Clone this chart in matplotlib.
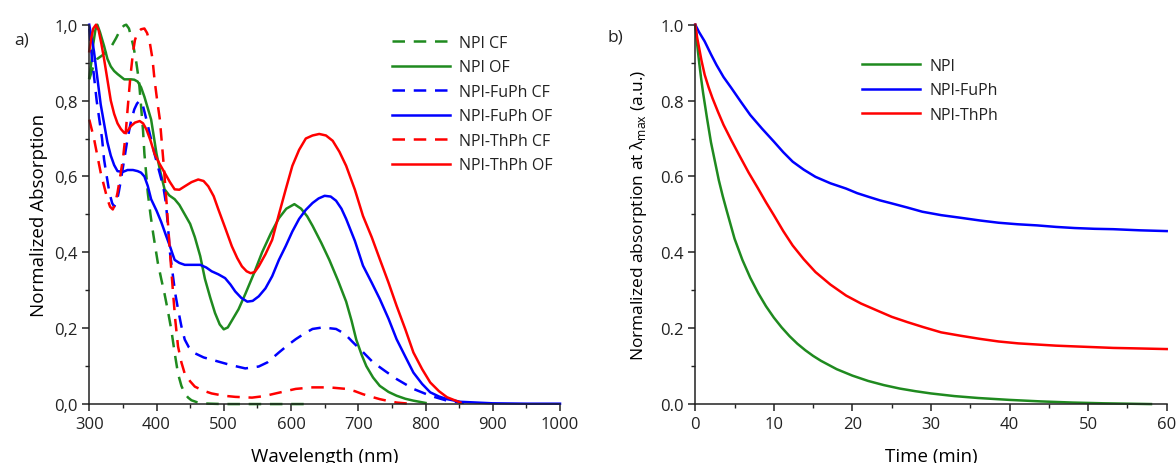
import matplotlib
matplotlib.use('Agg')
import matplotlib.pyplot as plt
from matplotlib.ticker import MultipleLocator, FuncFormatter

plt.rcParams['font.family'] = ['Open Sans', 'DejaVu Sans']
plt.rcParams['mathtext.fontset'] = 'custom'
plt.rcParams['mathtext.rm'] = 'Open Sans'
plt.rcParams['text.color'] = '#222222'

# ---- panel a) absorption spectra (wavelength nm, normalized absorption) ----
npi_cf_wl = [300, 306, 312, 320, 326, 332, 340, 347, 352, 355, 359, 362, 366, 370, 374, 377, 380, 382, 385, 387, 391, 395,
             399, 402, 407, 412, 417, 422, 427, 432, 437, 442, 447, 452, 460, 467, 480, 500, 560, 620]
npi_cf_abs = [0.856, 0.89, 0.91, 0.92, 0.93, 0.94, 0.965, 0.99, 0.998, 1.0, 0.99, 0.97, 0.94, 0.90, 0.85, 0.786, 0.72,
              0.66, 0.60, 0.557, 0.50, 0.45, 0.405, 0.372, 0.33, 0.29, 0.245, 0.196, 0.135, 0.08, 0.048, 0.028, 0.017,
              0.01, 0.005, 0.002, 0.001, 0.0, 0.0, 0.0]

npi_of_wl = [300, 303, 306, 309, 312, 316, 322, 327, 332, 337, 342, 352, 362, 367, 372, 377, 382, 387, 392, 396, 400, 406,
             412, 419, 427, 434, 442, 450, 457, 465, 472, 480, 487, 494, 500, 506, 512, 522, 532, 545, 557, 570, 582,
             593, 605, 615, 624, 632, 645, 657, 670, 682, 690, 697, 705, 712, 722, 732, 745, 757, 770, 782, 800]
npi_of_abs = [0.86, 0.90, 0.95, 0.985, 1.0, 0.98, 0.944, 0.91, 0.89, 0.878, 0.87, 0.856, 0.856, 0.855, 0.85, 0.835, 0.81,
              0.78, 0.75, 0.705, 0.66, 0.61, 0.566, 0.55, 0.54, 0.525, 0.50, 0.475, 0.44, 0.39, 0.33, 0.28, 0.24, 0.21,
              0.197, 0.202, 0.22, 0.25, 0.29, 0.345, 0.40, 0.45, 0.49, 0.515, 0.527, 0.515, 0.495, 0.47, 0.425, 0.38,
              0.325, 0.27, 0.22, 0.17, 0.13, 0.10, 0.07, 0.048, 0.032, 0.022, 0.014, 0.009, 0.003]

fuph_cf_wl = [300, 303, 307, 311, 315, 319, 322, 326, 330, 334, 337, 341, 344, 347, 352, 357, 362, 367, 371, 375, 380, 385,
              391, 397, 403, 410, 414, 417, 420, 425, 428, 432, 437, 442, 448, 457, 470, 492, 510, 532, 552, 565, 582,
              595, 607, 620, 632, 647, 667, 680, 692, 707, 722, 740, 757, 782, 807, 832, 857]
fuph_cf_abs = [0.99, 0.93, 0.865, 0.80, 0.75, 0.70, 0.645, 0.60, 0.557, 0.53, 0.52, 0.535, 0.56, 0.59, 0.645, 0.70, 0.745,
               0.777, 0.792, 0.80, 0.785, 0.75, 0.705, 0.66, 0.62, 0.574, 0.53, 0.469, 0.40, 0.33, 0.29, 0.25, 0.205,
               0.17, 0.15, 0.134, 0.123, 0.112, 0.103, 0.094, 0.099, 0.11, 0.136, 0.155, 0.171, 0.186, 0.198, 0.202,
               0.198, 0.185, 0.163, 0.137, 0.11, 0.087, 0.066, 0.04, 0.022, 0.009, 0.003]

fuph_of_wl = [300, 303, 307, 312, 317, 322, 327, 332, 337, 342, 350, 357, 365, 372, 377, 382, 387, 392, 400, 407, 414, 420,
              424, 427, 434, 442, 455, 465, 474, 482, 492, 502, 510, 517, 526, 535, 543, 552, 562, 572, 582, 592, 602,
              612, 622, 632, 641, 650, 659, 667, 675, 682, 695, 707, 720, 732, 745, 757, 770, 782, 795, 807, 820, 832,
              852, 900, 950, 1000]
fuph_of_abs = [1.0, 0.97, 0.93, 0.86, 0.79, 0.74, 0.69, 0.655, 0.63, 0.614, 0.612, 0.617, 0.617, 0.614, 0.61, 0.60, 0.575,
               0.54, 0.51, 0.48, 0.445, 0.416, 0.395, 0.38, 0.372, 0.367, 0.367, 0.367, 0.36, 0.35, 0.342, 0.332, 0.315,
               0.297, 0.28, 0.27, 0.272, 0.284, 0.305, 0.337, 0.38, 0.416, 0.455, 0.488, 0.512, 0.53, 0.542, 0.549,
               0.547, 0.536, 0.515, 0.488, 0.43, 0.365, 0.32, 0.277, 0.225, 0.171, 0.125, 0.083, 0.053, 0.031, 0.02,
               0.013, 0.006, 0.002, 0.001, 0.001]

thph_cf_wl = [300, 307, 312, 317, 322, 327, 331, 335, 338, 342, 346, 350, 354, 357, 361, 365, 368, 372, 377, 382, 386, 390,
              394, 397, 401, 405, 410, 415, 420, 425, 428, 432, 437, 442, 450, 457, 470, 482, 500, 517, 542, 560, 577,
              592, 607, 632, 657, 682, 695, 707, 720, 732, 745, 757, 782]
thph_cf_abs = [0.75, 0.70, 0.655, 0.61, 0.575, 0.54, 0.52, 0.513, 0.525, 0.557, 0.60, 0.645, 0.71, 0.777, 0.86, 0.927,
               0.96, 0.98, 0.988, 0.99, 0.978, 0.953, 0.91, 0.856, 0.80, 0.75, 0.645, 0.53, 0.40, 0.284, 0.22, 0.152,
               0.11, 0.08, 0.06, 0.046, 0.035, 0.028, 0.022, 0.019, 0.017, 0.021, 0.028, 0.034, 0.04, 0.044, 0.044, 0.04,
               0.034, 0.026, 0.019, 0.013, 0.008, 0.004, 0.0]

thph_of_wl = [300, 303, 306, 310, 314, 318, 322, 327, 332, 337, 342, 347, 352, 357, 362, 368, 375, 380, 385, 391, 397, 404,
              412, 420, 427, 434, 442, 452, 462, 470, 477, 485, 492, 502, 512, 520, 527, 534, 540, 546, 552, 562, 572,
              582, 592, 602, 612, 622, 632, 642, 652, 662, 672, 682, 695, 707, 720, 732, 745, 757, 770, 782, 795, 807,
              820, 832, 852]
thph_of_abs = [0.93, 0.965, 0.99, 1.0, 0.985, 0.95, 0.91, 0.855, 0.80, 0.765, 0.74, 0.725, 0.715, 0.72, 0.733, 0.742,
               0.746, 0.74, 0.724, 0.695, 0.66, 0.635, 0.61, 0.585, 0.566, 0.565, 0.574, 0.585, 0.592, 0.588, 0.574,
               0.548, 0.513, 0.465, 0.416, 0.385, 0.363, 0.35, 0.345, 0.348, 0.363, 0.395, 0.433, 0.50, 0.565, 0.628,
               0.67, 0.70, 0.708, 0.712, 0.708, 0.694, 0.665, 0.628, 0.565, 0.496, 0.44, 0.382, 0.32, 0.259, 0.197,
               0.136, 0.092, 0.057, 0.034, 0.018, 0.004]

# ---- panel b) decay at lambda max (time min) ----
npi_t = [0, 0.25, 0.5, 0.75, 1, 1.5, 2, 2.5, 3, 3.5, 4, 5, 6, 7, 8, 9, 10, 11, 12, 13, 14, 15, 16, 18, 20, 22, 24, 26,
         28, 30, 33, 36, 40, 44, 48, 52, 55, 58]
npi_a = [1.0, 0.947, 0.90, 0.858, 0.82, 0.753, 0.69, 0.64, 0.59, 0.548, 0.51, 0.436, 0.38, 0.333, 0.293, 0.258, 0.228,
         0.202, 0.179, 0.159, 0.142, 0.127, 0.114, 0.092, 0.075, 0.061, 0.050, 0.041, 0.034, 0.028, 0.021, 0.016,
         0.011, 0.007, 0.004, 0.002, 0.001, 0.0]

fuph_t = [0, 0.5, 1.2, 2.0, 2.7, 3.6, 4.6, 5.8, 7.0, 8.5, 10, 11.2, 12.4, 13.8, 15.3, 17.2, 19.2, 20.6, 22.1, 23.5, 25,
          27, 28.9, 31.3, 33.8, 36.2, 38.6, 41, 43.5, 45.9, 48.3, 50.8, 53.2, 56.6, 60]
fuph_a = [1.0, 0.98, 0.956, 0.922, 0.894, 0.862, 0.833, 0.797, 0.762, 0.726, 0.692, 0.664, 0.639, 0.618, 0.599, 0.582,
          0.568, 0.556, 0.546, 0.537, 0.529, 0.518, 0.507, 0.498, 0.491, 0.484, 0.478, 0.474, 0.471, 0.467, 0.464,
          0.462, 0.461, 0.458, 0.456]

thph_t = [0, 0.25, 0.5, 0.8, 1.2, 1.7, 2.2, 2.9, 3.6, 4.6, 5.6, 6.8, 8, 9, 10, 11.2, 12.4, 13.8, 15.3, 17.2, 19.2, 21.1,
          23.1, 25, 27, 29, 31.3, 33.8, 36.2, 38.6, 41.1, 43.5, 45.9, 48.3, 50.8, 53.2, 55.6, 60]
thph_a = [1.0, 0.965, 0.938, 0.905, 0.868, 0.835, 0.806, 0.77, 0.736, 0.695, 0.656, 0.61, 0.568, 0.532, 0.498, 0.456,
          0.418, 0.382, 0.348, 0.315, 0.286, 0.265, 0.247, 0.23, 0.216, 0.203, 0.189, 0.18, 0.172, 0.165, 0.160,
          0.157, 0.154, 0.152, 0.150, 0.148, 0.147, 0.145]

green = '#1f8a1f'
blue = '#0000ff'
red = '#ff0000'
lw = 1.8
dash = (5, 3.5)

fig = plt.figure(figsize=(11.76, 4.64), dpi=100)
ax1 = fig.add_axes([0.0759, 0.127, 0.4003, 0.8176])
ax2 = fig.add_axes([0.5912, 0.127, 0.4009, 0.8176])

ax1.plot(npi_cf_wl, npi_cf_abs, color=green, lw=lw, dashes=dash, label='NPI CF')
ax1.plot(npi_of_wl, npi_of_abs, color=green, lw=lw, label='NPI OF')
ax1.plot(fuph_cf_wl, fuph_cf_abs, color=blue, lw=lw, dashes=dash, label='NPI-FuPh CF')
ax1.plot(fuph_of_wl, fuph_of_abs, color=blue, lw=lw, label='NPI-FuPh OF')
ax1.plot(thph_cf_wl, thph_cf_abs, color=red, lw=lw, dashes=dash, label='NPI-ThPh CF')
ax1.plot(thph_of_wl, thph_of_abs, color=red, lw=lw, label='NPI-ThPh OF')

ax2.plot(npi_t, npi_a, color=green, lw=lw, label='NPI')
ax2.plot(fuph_t, fuph_a, color=blue, lw=lw, label='NPI-FuPh')
ax2.plot(thph_t, thph_a, color=red, lw=lw, label='NPI-ThPh')

ax1.set_xlim(300, 1000)
ax1.set_ylim(0, 1.0)
ax1.xaxis.set_major_locator(MultipleLocator(100))
ax1.xaxis.set_minor_locator(MultipleLocator(50))
ax1.yaxis.set_major_locator(MultipleLocator(0.2))
ax1.yaxis.set_minor_locator(MultipleLocator(0.1))
ax1.yaxis.set_major_formatter(FuncFormatter(lambda v, p: f'{v:.1f}'.replace('.', ',')))
ax1.set_xlabel('Wavelength (nm)', fontsize=13.5, labelpad=11)
ax1.set_ylabel('Normalized Absorption', fontsize=13.5)

ax2.set_xlim(0, 60)
ax2.set_ylim(0, 1.0)
ax2.xaxis.set_major_locator(MultipleLocator(10))
ax2.xaxis.set_minor_locator(MultipleLocator(5))
ax2.yaxis.set_major_locator(MultipleLocator(0.2))
ax2.yaxis.set_minor_locator(MultipleLocator(0.1))
ax2.yaxis.set_major_formatter(FuncFormatter(lambda v, p: f'{v:.1f}'))
ax2.set_xlabel('Time (min)', fontsize=13.5, labelpad=11)
ax2.set_ylabel('Normalized absorption at λ$_{\\mathrm{max}}$ (a.u.)', fontsize=12.5, labelpad=8)

for ax in (ax1, ax2):
    for s in ('top', 'right'):
        ax.spines[s].set_visible(False)
    for s in ('left', 'bottom'):
        ax.spines[s].set_linewidth(1.1)
        ax.spines[s].set_color('#222222')
    ax.tick_params(which='major', direction='out', length=5, width=1.1, labelsize=12, colors='#222222')
    ax.tick_params(which='minor', direction='out', length=3, width=1.0, colors='#222222')
    for line in ax.get_lines():
        line.set_clip_on(False)
        line.set_solid_joinstyle('round')

ax1.legend(loc='upper left', bbox_to_anchor=(0.63, 0.99), frameon=False, fontsize=11.5,
           handlelength=3.6, handletextpad=0.6, labelspacing=0.53, borderaxespad=0)
ax2.legend(loc='upper left', bbox_to_anchor=(0.341, 0.93), frameon=False, fontsize=11.5,
           handlelength=3.6, handletextpad=0.6, labelspacing=0.53, borderaxespad=0)

fig.text(0.012, 0.905, 'a)', fontsize=12.5)
fig.text(0.517, 0.91, 'b)', fontsize=12.5)

fig.savefig('out.png', dpi=100)
